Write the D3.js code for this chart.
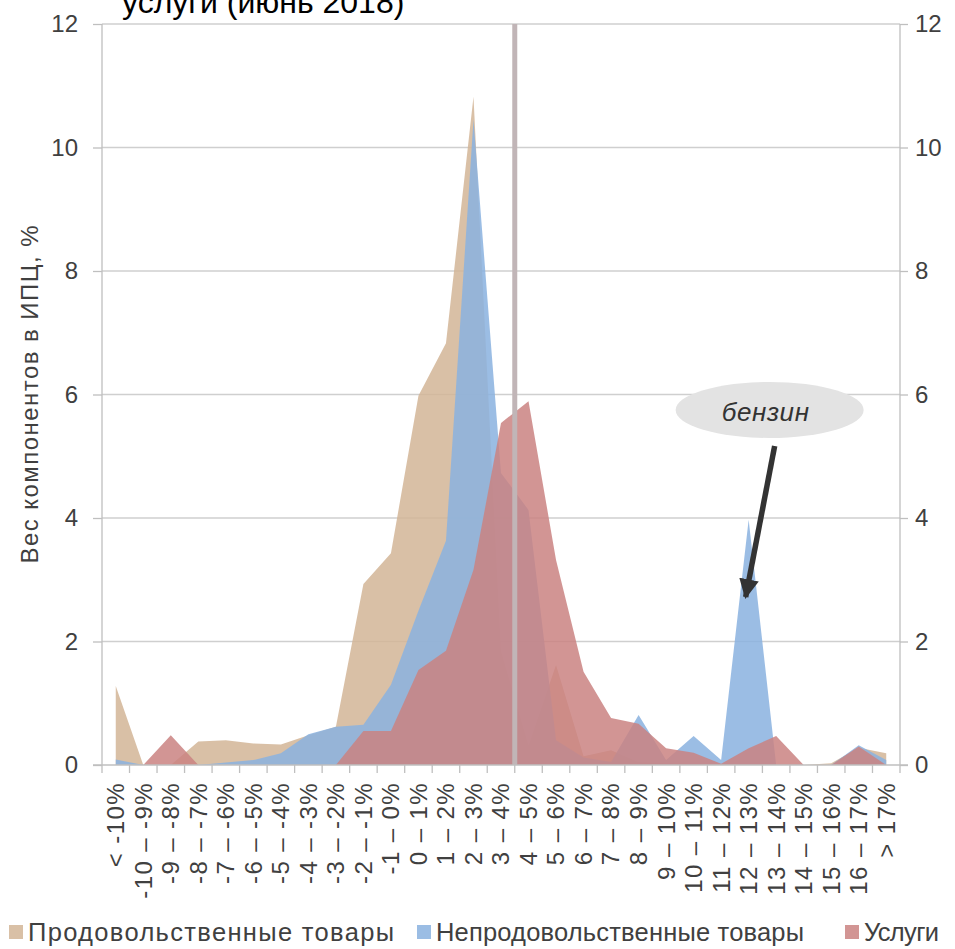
<!DOCTYPE html>
<html>
<head>
<meta charset="utf-8">
<script src="https://cdn.jsdelivr.net/npm/d3@7"></script>
<style>
  html, body { margin: 0; padding: 0; background: #fff; }
  svg { display: block; }
  text { font-family: "Liberation Sans", Arial, sans-serif; }
</style>
</head>
<body>
<script>
// ---------- data ----------
const categories = [
  "< -10%", "-10 – -9%", "-9 – -8%", "-8 – -7%", "-7 – -6%", "-6 – -5%", "-5 – -4%",
  "-4 – -3%", "-3 – -2%", "-2 – -1%", "-1 – 0%", "0 – 1%", "1 – 2%", "2 – 3%",
  "3 – 4%", "4 – 5%", "5 – 6%", "6 – 7%", "7 – 8%", "8 – 9%", "9 – 10%",
  "10 – 11%", "11 – 12%", "12 – 13%", "13 – 14%", "14 – 15%", "15 – 16%", "16 – 17%", "> 17%"
];
const food = [1.28, 0, 0, 0.38, 0.40, 0.35, 0.33, 0.48, 0.62, 2.93, 3.43, 5.98, 6.83, 10.82,
  1.85, 0.32, 1.62, 0.14, 0.24, 0.05, 0.03, 0.02, 0, 0, 0, 0, 0.03, 0.28, 0.19];
const nonfood = [0.09, 0, 0, 0, 0.04, 0.08, 0.19, 0.50, 0.62, 0.65, 1.30, 2.50, 3.63, 10.45,
  4.73, 4.13, 0.40, 0.12, 0.05, 0.81, 0.08, 0.47, 0.08, 3.97, 0, 0, 0, 0.32, 0.08];
const services = [0, 0, 0.48, 0, 0, 0, 0, 0, 0, 0.55, 0.55, 1.54, 1.85, 3.16,
  5.54, 5.89, 3.32, 1.51, 0.76, 0.67, 0.27, 0.20, 0.02, 0.27, 0.47, 0, 0, 0.30, 0];
const seriesNames = ["Продовольственные товары", "Непродовольственные товары", "Услуги"];
const yTicks = [0, 2, 4, 6, 8, 10, 12];
const targetBoundary = "4 – 5%";   // vertical line at 4%
const titleText = "услуги (июнь 2018)";
const yTitle = "Вес компонентов в ИПЦ, %";
const noteText = "бензин";
const noteCategory = "12 – 13%";

// ---------- layout ----------
const W = 955, H = 949;
const pL = 102, pR = 900, pT = 24, pB = 765;
const colors = ["#d2b596", "#8ab2e0", "#ca8381"];
const opac = [0.85, 0.86, 0.85];
const textCol = "#404040";

const svg = d3.select("body").append("svg").attr("width", W).attr("height", H);

const x = d3.scaleBand().domain(categories).range([pL, pR]).paddingInner(0).paddingOuter(0);
const y = d3.scaleLinear().domain([0, 12]).range([pB, pT]);
const cx = c => x(c) + x.bandwidth() / 2;

// gridlines
svg.append("g").selectAll("line").data(yTicks.filter(v => v > 0)).join("line")
  .attr("x1", pL).attr("x2", pR)
  .attr("y1", d => y(d)).attr("y2", d => y(d))
  .attr("stroke", "#cfcfcf").attr("stroke-width", 1.3);

// areas
const all = [food, nonfood, services];
const area = d3.area()
  .x((d, i) => cx(categories[i]))
  .y0(y(0))
  .y1(d => y(d))
  .curve(d3.curveLinear);
svg.append("g").selectAll("path").data(all).join("path")
  .attr("d", d => area(d))
  .attr("fill", (d, i) => colors[i])
  .attr("fill-opacity", (d, i) => opac[i]);

// vertical target line
const xt = x(targetBoundary);
svg.append("line")
  .attr("x1", xt).attr("x2", xt).attr("y1", pT).attr("y2", pB)
  .attr("stroke", "#c1b5b7").attr("stroke-width", 5);

// axes
const axisCol = "#bfbfbf";
const gl = svg.append("g").attr("transform", `translate(${pL},0)`)
  .call(d3.axisLeft(y).tickValues(yTicks).tickSize(9).tickPadding(15).tickFormat(d3.format("d")));
const gr = svg.append("g").attr("transform", `translate(${pR},0)`)
  .call(d3.axisRight(y).tickValues(yTicks).tickSize(8).tickPadding(7).tickFormat(d3.format("d")));
const gb = svg.append("g").attr("transform", `translate(0,${pB})`)
  .call(d3.axisBottom(x).tickSize(8).tickFormat(""));
gb.selectAll(".tick").remove();
gb.selectAll("line.bt").data(categories.concat(["__end"])).join("line")
  .attr("class", "bt")
  .attr("x1", (d, i) => i < categories.length ? x(d) : pR)
  .attr("x2", (d, i) => i < categories.length ? x(d) : pR)
  .attr("y1", 0).attr("y2", 8)
  .attr("stroke", axisCol).attr("stroke-width", 1.3);

[gl, gr, gb].forEach(g => {
  g.selectAll(".domain").attr("stroke", axisCol).attr("stroke-width", 1.3);
  g.selectAll(".tick line").attr("stroke", axisCol).attr("stroke-width", 1.3);
  g.selectAll(".tick text").attr("fill", textCol).attr("font-size", 24)
    .attr("font-family", '"Liberation Sans", Arial, sans-serif');
});
gl.select(".domain").attr("d", `M0,${pB}V${pT}`);
gr.select(".domain").attr("d", `M0,${pB}V${pT}`);
gb.select(".domain").attr("d", `M${pL - 9},0H${pR + 8}`);

// x labels (rotated)
svg.append("g").selectAll("text").data(categories).join("text")
  .attr("transform", d => `translate(${cx(d)},${pB + 17}) rotate(-90)`)
  .attr("text-anchor", "end").attr("dy", "0.35em")
  .attr("font-size", 24).attr("letter-spacing", 1.4).attr("fill", textCol)
  .text(d => d);

// y title
svg.append("text")
  .attr("transform", `translate(30,${(pT + pB) / 2}) rotate(-90)`)
  .attr("text-anchor", "middle").attr("dy", "0.35em")
  .attr("font-size", 24).attr("fill", textCol)
  .attr("textLength", 338).attr("lengthAdjust", "spacing")
  .text(yTitle);

// title (clipped at top)
svg.append("text").attr("x", 122).attr("y", 13)
  .attr("font-size", 32).attr("fill", "#000").text(titleText);

// annotation
const ncx = cx(noteCategory) + 21, ncy = y(5.75);
svg.append("ellipse").attr("cx", ncx).attr("cy", ncy).attr("rx", 94).attr("ry", 28)
  .attr("fill", "#e3e3e3");
svg.append("text").attr("x", ncx - 4).attr("y", ncy + 2).attr("dy", "0.35em")
  .attr("text-anchor", "middle").attr("font-style", "italic")
  .attr("font-size", 26).attr("letter-spacing", 0.6).attr("fill", "#333").text(noteText);
svg.append("defs").append("marker").attr("id", "ah")
  .attr("viewBox", "0 0 10 10").attr("refX", 9).attr("refY", 5)
  .attr("markerWidth", 3.6).attr("markerHeight", 3.6).attr("orient", "auto")
  .append("path").attr("d", "M0,0L10,5L0,10Z").attr("fill", "#333");
const tipX = cx(noteCategory) - 3, tipY = y(2.72);
svg.append("line")
  .attr("x1", ncx + 5).attr("y1", ncy + 36)
  .attr("x2", tipX).attr("y2", tipY)
  .attr("stroke", "#333").attr("stroke-width", 5.5)
  .attr("marker-end", "url(#ah)");

// legend
const legendX = [9, 417, 845];
const legendW = [366, 368, 75];
const lg = svg.append("g").selectAll("g").data(seriesNames).join("g")
  .attr("transform", (d, i) => `translate(${legendX[i]},932)`);
lg.append("rect").attr("x", 0).attr("y", -7).attr("width", 14).attr("height", 14)
  .attr("fill", (d, i) => colors[i]).attr("fill-opacity", (d, i) => opac[i]);
lg.append("text").attr("x", 19).attr("dy", "0.35em")
  .attr("font-size", 25.5).attr("fill", textCol)
  .attr("textLength", (d, i) => legendW[i]).attr("lengthAdjust", "spacing")
  .text(d => d);
</script>
</body>
</html>
